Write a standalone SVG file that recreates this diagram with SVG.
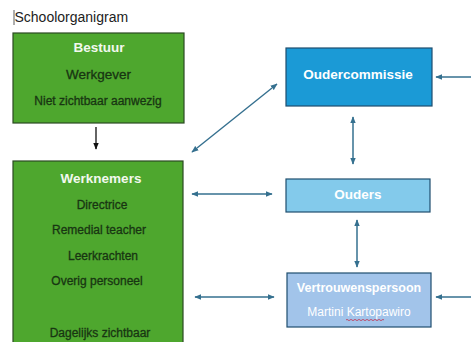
<svg xmlns="http://www.w3.org/2000/svg" width="471" height="342" viewBox="0 0 471 342">
<defs>
<marker id="ah" viewBox="0 0 10 10" refX="9" refY="5" markerWidth="7" markerHeight="7" orient="auto-start-reverse" markerUnits="userSpaceOnUse">
<path d="M0,1 L10,5 L0,9 z" fill="#35708f"/>
</marker>
<marker id="ahk" viewBox="0 0 10 10" refX="9" refY="5" markerWidth="7" markerHeight="7" orient="auto" markerUnits="userSpaceOnUse">
<path d="M0,1 L10,5 L0,9 z" fill="#111"/>
</marker>
<style>
text{font-family:"Liberation Sans",Arial,sans-serif;text-anchor:middle}
.g{fill:#4ea72e;stroke:#2b4a22;stroke-width:1.2}
.gt{fill:#183512;font-size:12px;stroke:#183512;stroke-width:0.3}
.wh{fill:#f2f8ee;font-weight:bold;font-size:13.5px}
.b{stroke:#1f4e6e;stroke-width:1.2}
.bt{fill:#ffffff;font-weight:bold;font-size:13.5px}
.c{stroke:#35708f;stroke-width:1.5;fill:none;marker-start:url(#ah);marker-end:url(#ah)}
.s{stroke:#35708f;stroke-width:1.5;fill:none;marker-end:url(#ah)}
</style>
</defs>
<rect width="471" height="342" fill="#ffffff"/>
<line x1="14" y1="10" x2="14" y2="25" stroke="#333" stroke-width="0.8"/>
<text x="14.5" y="22" style="text-anchor:start;font-size:14px;fill:#222">Schoolorganigram</text>
<g id="bestuur">
<rect class="g" x="13" y="33" width="171" height="90"/>
<text class="wh" x="99" y="52">Bestuur</text>
<text class="gt" x="98.5" y="79" style="font-size:13.5px">Werkgever</text>
<text class="gt" x="98" y="105">Niet zichtbaar aanwezig</text>
</g>
<g id="werknemers">
<rect class="g" x="13" y="161" width="170" height="190"/>
<text class="wh" x="101" y="183">Werknemers</text>
<text class="gt" x="102" y="209">Directrice</text>
<text class="gt" x="99" y="234">Remedial teacher</text>
<text class="gt" x="103" y="260">Leerkrachten</text>
<text class="gt" x="97" y="285">Overig personeel</text>
<text class="gt" x="100" y="337">Dagelijks zichtbaar</text>
</g>
<g id="oudercommissie">
<rect class="b" x="286" y="48" width="146" height="58" fill="#1b9ad6"/>
<text class="bt" x="358" y="79">Oudercommissie</text>
</g>
<g id="ouders">
<rect class="b" x="286" y="179" width="144" height="33" fill="#83caeb"/>
<text class="bt" x="358" y="199">Ouders</text>
</g>
<g id="vertrouwenspersoon">
<rect class="b" x="287" y="273" width="144" height="54" fill="#a2c4ea"/>
<text class="bt" x="359" y="292" style="font-size:12.5px">Vertrouwenspersoon</text>
<text x="359" y="316" style="fill:#ffffff;font-size:12px">Martini Kartopawiro</text>
<path d="M346,320 q1,-1.2 2,0 t2,0 t2,0 t2,0 t2,0 t2,0 t2,0 t2,0 t2,0 t2,0 t2,0 t2,0 t2,0 t2,0 t2,0 t2,0 t2,0 t2,0 t2,0" fill="none" stroke="#c0304a" stroke-width="0.8"/>
</g>
<g id="connectors">
<line x1="96" y1="127" x2="96" y2="149" stroke="#111" stroke-width="1.3" marker-end="url(#ahk)"/>
<line class="c" x1="192" y1="152" x2="277" y2="84"/>
<line class="s" x1="471" y1="77" x2="436" y2="77"/>
<line class="c" x1="353" y1="117" x2="353" y2="164"/>
<line class="c" x1="192" y1="194" x2="272" y2="194"/>
<line class="c" x1="357" y1="220" x2="357" y2="267"/>
<line class="c" x1="195" y1="297" x2="274" y2="297"/>
<line class="s" x1="471" y1="297" x2="436" y2="297"/>
</g>
</svg>
